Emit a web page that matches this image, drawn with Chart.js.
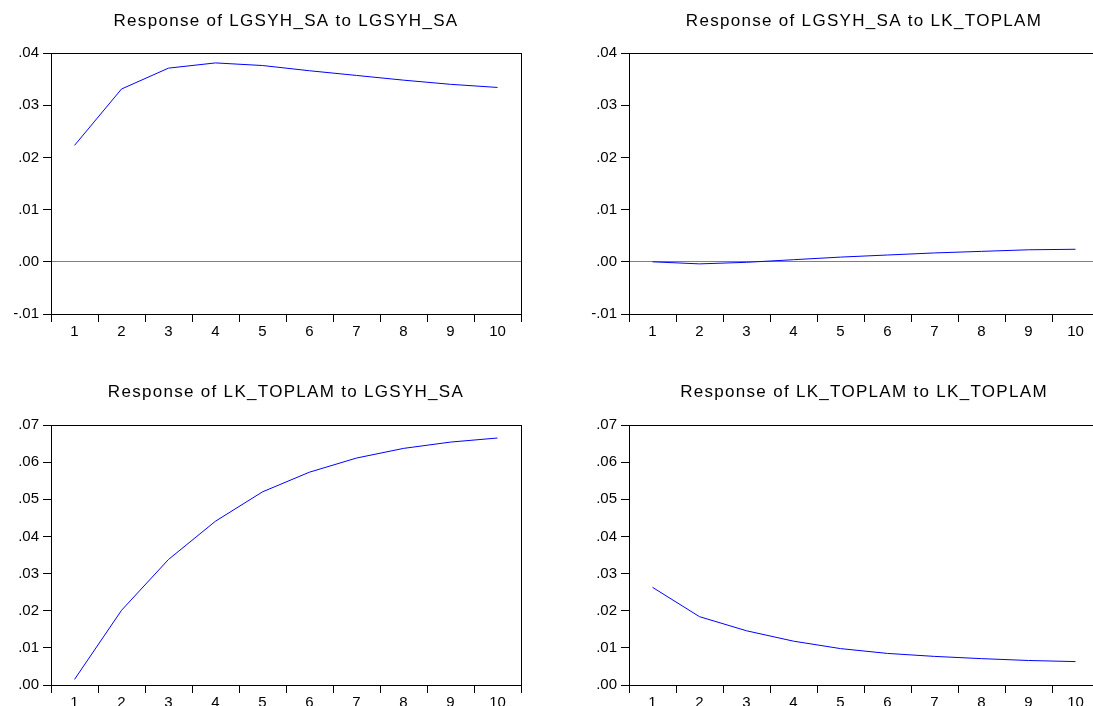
<!DOCTYPE html>
<html>
<head>
<meta charset="utf-8">
<script src="https://cdn.jsdelivr.net/npm/chart.js@4.4.1/dist/chart.umd.min.js"></script>
<style>
html, body { margin:0; padding:0; background:#ffffff; overflow:hidden; width:1093px; height:706px; }
.panel { position:absolute; width:546px; height:353px; }
canvas { display:block; }
</style>
</head>
<body>
<div class="panel" style="left:0px;top:0px"><canvas id="c1" width="546" height="353"></canvas></div>
<div class="panel" style="left:578px;top:0px"><canvas id="c2" width="546" height="353"></canvas></div>
<div class="panel" style="left:0px;top:353px"><canvas id="c3" width="546" height="353"></canvas></div>
<div class="panel" style="left:578px;top:353px"><canvas id="c4" width="546" height="353"></canvas></div>
<script>
// ---- data ----
const periods = ['1','2','3','4','5','6','7','8','9','10'];
const respLgsyhToLgsyh = [0.0223, 0.0331, 0.0371, 0.0381, 0.0376, 0.0366, 0.0357, 0.0348, 0.0340, 0.0334];
const respLgsyhToLk    = [0.0000, -0.0004, -0.0001, 0.0004, 0.0009, 0.0013, 0.0017, 0.0020, 0.0023, 0.0024];
const respLkToLgsyh    = [0.0015, 0.0201, 0.0338, 0.0441, 0.0520, 0.0573, 0.0611, 0.0637, 0.0654, 0.0665];
const respLkToLk       = [0.0263, 0.0184, 0.0146, 0.0118, 0.0098, 0.0085, 0.0077, 0.0071, 0.0066, 0.0063];
const yTicksTop    = [-0.01, 0, 0.01, 0.02, 0.03, 0.04];
const yTicksBottom = [0, 0.01, 0.02, 0.03, 0.04, 0.05, 0.06, 0.07];
const panelTitles = [
  'Response of LGSYH_SA to LGSYH_SA',
  'Response of LGSYH_SA to LK_TOPLAM',
  'Response of LK_TOPLAM to LGSYH_SA',
  'Response of LK_TOPLAM to LK_TOPLAM'
];

const FONT = "'Liberation Sans', Arial, sans-serif";

const framePlugin = {
  id: 'frame',
  afterDraw(chart) {
    const a = chart.chartArea, ctx = chart.ctx;
    ctx.save();
    ctx.strokeStyle = '#000000';
    ctx.lineWidth = 1;
    const l = Math.round(a.left) + 0.5, r = Math.round(a.right) + 0.5;
    const t = Math.round(a.top) + 0.5, b = Math.round(a.bottom) + 0.5;
    ctx.strokeRect(l, t, r - l, b - t);
    ctx.restore();
  }
};

const titleSpacing = {
  id: 'titleSpacing',
  beforeDraw(chart) { chart.ctx.letterSpacing = '1.3px'; },
  beforeDatasetsDraw(chart) { chart.ctx.letterSpacing = '0px'; }
};

function fmt(v) {
  const s = Number(v).toFixed(2);
  return s.replace(/^(-?)0\./, '$1.');
}

function makeChart(id, title, values, yTicks, zeroLine, titlePad, xHeight) {
  const ymin = yTicks[0], ymax = yTicks[yTicks.length - 1];
  return new Chart(document.getElementById(id), {
    type: 'line',
    data: {
      labels: periods,
      datasets: [{
        data: values,
        borderColor: '#0000ff',
        borderWidth: 1,
        pointRadius: 0,
        tension: 0,
        fill: false
      }]
    },
    options: {
      responsive: false,
      animation: false,
      events: [],
      layout: { padding: { left: 0, right: 25, top: 0, bottom: 0 } },
      plugins: {
        legend: { display: false },
        tooltip: { enabled: false },
        title: {
          display: true,
          text: title,
          fullSize: false,
          color: '#000000',
          font: { family: FONT, size: 17, weight: 'normal', lineHeight: 1.2 },
          padding: titlePad
        }
      },
      scales: {
        x: {
          type: 'category',
          offset: true,
          afterFit(scale) { scale.height = xHeight; },
          grid: { offset: true, drawOnChartArea: false, drawTicks: true, tickLength: 8, color: '#000000', tickColor: '#000000' },
          border: { display: false },
          ticks: { color: '#000000', font: { family: FONT, size: 15 }, padding: 1, maxRotation: 0, autoSkip: false, z: 1 }
        },
        y: {
          type: 'linear',
          min: ymin,
          max: ymax,
          afterFit(scale) { scale.width = 51; },
          afterBuildTicks(scale) { scale.ticks = yTicks.map(v => ({ value: v })); },
          grid: {
            drawOnChartArea: true,
            drawTicks: true,
            tickLength: 8,
            color: (c) => (zeroLine && c.tick && c.tick.value === 0) ? '#808080' : 'rgba(0,0,0,0)',
            tickColor: '#000000'
          },
          border: { display: false },
          ticks: { color: '#000000', font: { family: FONT, size: 15 }, padding: 4, callback: (v) => fmt(v), z: 1 }
        }
      }
    },
    plugins: [framePlugin, titleSpacing]
  });
}

makeChart('c1', panelTitles[0], respLgsyhToLgsyh, yTicksTop, true, { top: 11.5, bottom: 21.1 }, 39);
makeChart('c2', panelTitles[1], respLgsyhToLk, yTicksTop, true, { top: 11.5, bottom: 21.1 }, 39);
makeChart('c3', panelTitles[2], respLkToLgsyh, yTicksBottom, false, { top: 29.5, bottom: 22.1 }, 21);
makeChart('c4', panelTitles[3], respLkToLk, yTicksBottom, false, { top: 29.5, bottom: 22.1 }, 21);
</script>
</body>
</html>
